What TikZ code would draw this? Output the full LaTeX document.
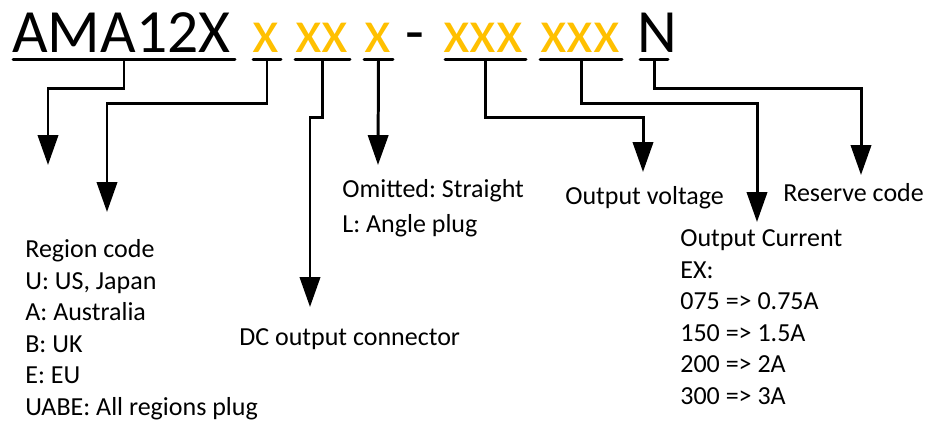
\documentclass[tikz,border=0pt]{standalone}
\usepackage{fontspec}
\setmainfont{Carlito}
\usetikzlibrary{arrows.meta}
\definecolor{codegold}{HTML}{FFC000}
\frenchspacing

\begin{document}
\begin{tikzpicture}[x=0.02cm, y=-0.02cm,
  codepart/.style={anchor=base west, inner sep=0pt, font=\fontsize{35}{40}\selectfont},
  codebar/.style={line width=1.7pt, line cap=round},
  lead/.style={line width=1.7pt, -{Triangle[width=11.5pt,length=17pt]}},
  label/.style={anchor=base west, inner sep=0pt, align=left, font=\fontsize{14.8}{17.9}\selectfont}]
\useasboundingbox (0,0) rectangle (926,424);
% Part number
\node [codepart] (model) at (12,52) {AMA12X};
\node [codepart, text=codegold] (region) at (252,52) {x};
\node [codepart, text=codegold] (dcconn) at (295,52) {xx};
\node [codepart, text=codegold] (plug) at (364,52) {x};
\node [codepart, anchor=base] (dash) at (415,52) {-};
\node [codepart, text=codegold] (volt) at (443,52) {xxx};
\node [codepart, text=codegold] (curr) at (540,52) {xxx};
\node [codepart] (reserve) at (637,52) {N};
% Bars under the parts
\draw [codebar] (13,59) -- coordinate (modelbar) (235,59);
\draw [codebar] (253,59) -- coordinate (regionbar) (281,59);
\draw [codebar] (295,59) -- coordinate (dcbar) (350,59);
\draw [codebar] (364,59) -- coordinate (plugbar) (393,59);
\draw [codebar] (445,59) -- coordinate (voltbar) (526,59);
\draw [codebar] (540,59) -- coordinate (currbar) (622,59);
\draw [codebar] (640,59) -- coordinate (reservebar) (668,59);
% Arrow tips
\coordinate (modeltip) at (48,165);
\coordinate (regiontip) at (107,212);
\coordinate (dctip) at (310,307);
\coordinate (plugtip) at (378,165);
\coordinate (volttip) at (643,172);
\coordinate (currtip) at (757,222);
\coordinate (reservetip) at (861,175);
% Leads
\draw [lead] (modelbar) -- ++(0,29) -| (modeltip);
\draw [lead] (regionbar) -- ++(0,44) -| (regiontip);
\draw [lead] (dcbar) -- ++(0,58) -| (dctip);
\draw [lead] (plugbar) -- (plugtip);
\draw [lead] (voltbar) -- ++(0,58) -| (volttip);
\draw [lead] (currbar) -- ++(0,44) -| (currtip);
\draw [lead] (reservebar) -- ++(0,29) -| (reservetip);
% Descriptions (placed at the baseline of their last line)
\node [label] (regiontext) at (25,415) {Region code\\U: US, Japan\\A: Australia\\B: UK\\E: EU\\UABE: All regions plug};
\node [label] (dctext) at (239,345) {DC output connector};
\node [label, font=\fontsize{14.8}{19.8}\selectfont] (plugtext) at (342,232) {Omitted: Straight\\L: Angle plug};
\node [label] (volttext) at (565,204) {Output voltage};
\node [label] (currtext) at (680,404) {Output Current\\EX:\\075 => 0.75A\\150 => 1.5A\\200 => 2A\\300 => 3A};
\node [label] (reservetext) at (783,201) {Reserve code};
\end{tikzpicture}
\end{document}
